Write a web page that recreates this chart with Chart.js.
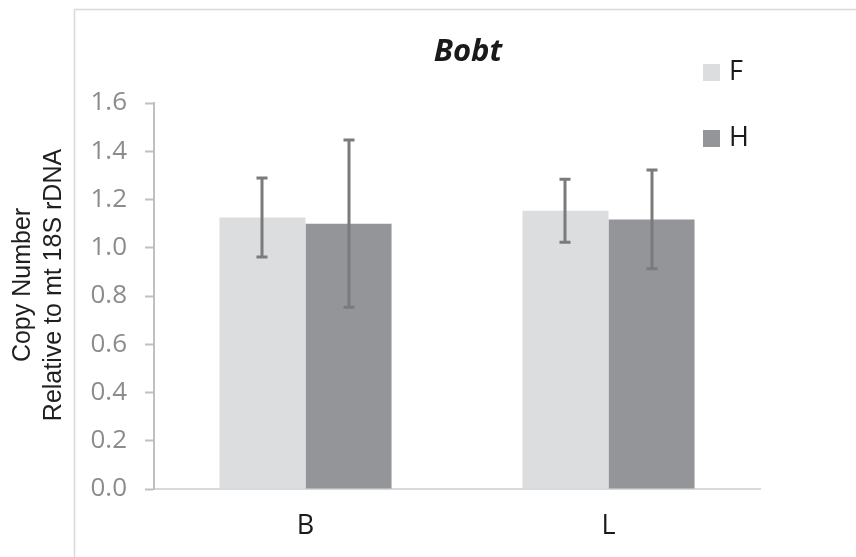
<!DOCTYPE html>
<html>
<head>
<meta charset="utf-8">
<script src="https://cdn.jsdelivr.net/npm/chart.js@4/dist/chart.umd.min.js"></script>
<style>
  html, body { margin: 0; padding: 0; background: #ffffff; }
  #wrap { width: 856px; height: 557px; }
</style>
</head>
<body>
<div id="wrap"><canvas id="bobtChart" width="856" height="557"></canvas></div>
<script>
// values
const categories = ["B", "L"];
const seriesNames = ["F", "H"];
const valuesF = [1.125, 1.153];
const valuesH = [1.100, 1.117];
const errLowF = [0.962, 1.023];
const errHighF = [1.289, 1.284];
const errLowH = [0.753, 0.913];
const errHighH = [1.447, 1.322];
const yTicks = [0, 0.2, 0.4, 0.6, 0.8, 1.0, 1.2, 1.4, 1.6];

const chartTitle = "Bobt";
const yTitle = ["Copy Number", "Relative to mt 18S rDNA"];

// frame, title, y title, legend, error bars
const decorPlugin = {
    id: "decor",
    afterDatasetsDraw(chart) {
        const ctx = chart.ctx;
        const y = chart.scales.y;
        const errs = [[errLowF, errHighF], [errLowH, errHighH]];
        ctx.save();
        ctx.strokeStyle = "#7b7b7b";
        ctx.lineWidth = 3;
        chart.data.datasets.forEach((ds, i) => {
            const meta = chart.getDatasetMeta(i);
            meta.data.forEach((bar, j) => {
                const x = Math.round(bar.x);
                const lo = y.getPixelForValue(errs[i][0][j]);
                const hi = y.getPixelForValue(errs[i][1][j]);
                ctx.beginPath();
                ctx.moveTo(x, lo);
                ctx.lineTo(x, hi);
                ctx.moveTo(x - 5.5, lo);
                ctx.lineTo(x + 5.5, lo);
                ctx.moveTo(x - 5.5, hi);
                ctx.lineTo(x + 5.5, hi);
                ctx.stroke();
            });
        });
        ctx.restore();
    },
    afterDraw(chart) {
        const ctx = chart.ctx;
        ctx.save();
        // chart frame
        ctx.strokeStyle = "#d9d9d9";
        ctx.lineWidth = 1.5;
        ctx.strokeRect(74.5, 9.5, 900, 700);

        // title
        ctx.fillStyle = "#1a1a1a";
        ctx.font = "italic bold 31px 'Open Sans'";
        ctx.textAlign = "center";
        ctx.textBaseline = "alphabetic";
        ctx.fillText(chartTitle, 468, 61);

        // y axis title
        ctx.translate(0, 285);
        ctx.rotate(-Math.PI / 2);
        ctx.font = "25px 'Liberation Sans'";
        ctx.fillStyle = "#1f1f1f";
        ctx.textBaseline = "middle";
        ctx.fillText(yTitle[0], 0, 23);
        ctx.fillText(yTitle[1], 0, 54);
        ctx.setTransform(1, 0, 0, 1, 0, 0);

        // legend
        ctx.font = "27px 'Open Sans'";
        ctx.textAlign = "left";
        ctx.textBaseline = "middle";
        chart.data.datasets.forEach((ds, i) => {
            const top = 64 + i * 66;
            ctx.fillStyle = ds.backgroundColor;
            ctx.fillRect(703, top, 17, 17);
            ctx.fillStyle = "#1a1a1a";
            ctx.fillText(ds.label, 729, top + 8);
        });
        ctx.restore();
    }
};

new Chart(document.getElementById("bobtChart").getContext("2d"), {
    type: "bar",
    data: {
        labels: categories,
        datasets: [
            { label: seriesNames[0], data: valuesF, backgroundColor: "#dcdddf" },
            { label: seriesNames[1], data: valuesH, backgroundColor: "#939598" }
        ]
    },
    options: {
        responsive: false,
        animation: false,
        categoryPercentage: 0.568,
        barPercentage: 1.0,
        layout: { padding: { top: 103, right: 96, bottom: 0, left: 0 } },
        plugins: {
            legend: { display: false },
            title: { display: false },
            tooltip: { enabled: false }
        },
        scales: {
            x: {
                grid: { display: false },
                border: { display: true, color: "#d9d9d9", width: 2 },
                ticks: { color: "#1a1a1a", font: { family: "Open Sans", size: 27 }, padding: 13 },
                afterFit(scale) { scale.height = 68; }
            },
            y: {
                min: 0,
                max: 1.6,
                afterBuildTicks(scale) { scale.ticks = yTicks.map(v => ({ value: v })); },
                grid: { drawOnChartArea: false, drawTicks: true, tickLength: 9, tickColor: "#bfbfbf", tickWidth: 2 },
                border: { display: true, color: "#bfbfbf", width: 2 },
                ticks: {
                    color: "#8c8c8c",
                    font: { family: "Open Sans", size: 26 },
                    padding: 18,
                    callback: (v) => Number(v).toFixed(1)
                },
                afterFit(scale) { scale.width = 154; }
            }
        }
    },
    plugins: [decorPlugin]
});
</script>
</body>
</html>
